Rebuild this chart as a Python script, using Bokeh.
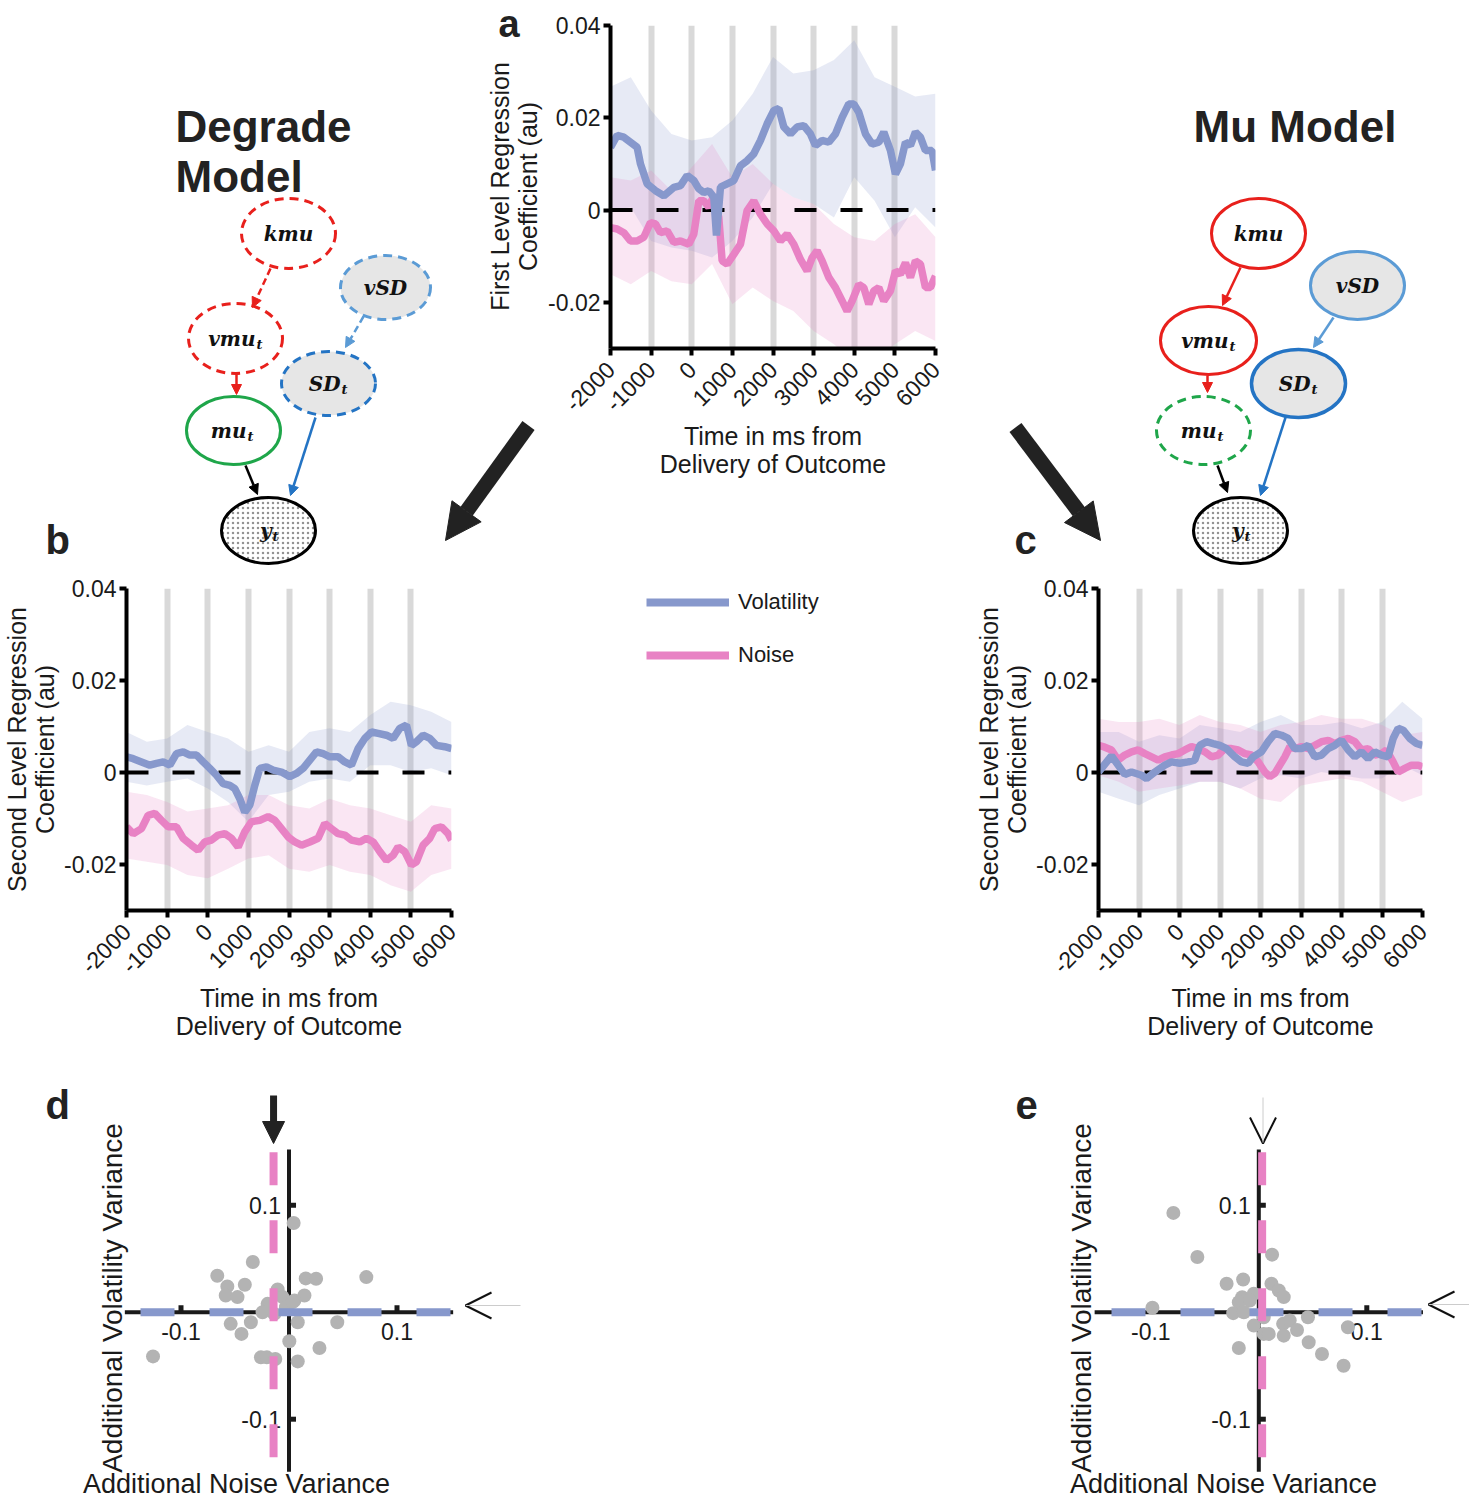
import math
from bokeh.plotting import figure
from bokeh.models import Range1d, FixedTicker, Arrow, NormalHead, OpenHead, Legend, LegendItem
from bokeh.layouts import row, column
from bokeh.embed import file_html
from bokeh.resources import INLINE
from bokeh.core.properties import value

# ---------------- data ----------------
time_ticks = [-2000, -1000, 0, 1000, 2000, 3000, 4000, 5000, 6000]
time_tick_labels = ["-2000", "-1000", "0", "1000", "2000", "3000", "4000", "5000", "6000"]
coef_ticks = [-0.02, 0.0, 0.02, 0.04]
coef_tick_labels = ["-0.02", "0", "0.02", "0.04"]
band_t = [-2000, -1500, -1000, -500, 0, 500, 1000, 1500, 2000, 2500, 3000, 3500, 4000, 4500, 5000, 5500, 6000]

# panel a (first level)
a_vol_t = [-2000,-1836,-1672,-1508,-1344,-1262,-1098,-893,-687,-441,-277,-113,51,174,297,420,543,609,707,871,1035,1199,1363,1527,1692,1856,2020,2143,2266,2430,2594,2758,2922,3045,3209,3373,3538,3702,3865,3988,4112,4276,4440,4604,4727,4891,5014,5137,5260,5383,5506,5629,5752,5916,6000]
a_vol = [0.0136,0.0162,0.0158,0.0147,0.0136,0.0100,0.0057,0.0042,0.0031,0.0049,0.0053,0.0075,0.0064,0.0046,0.0038,0.0042,0.0028,-0.0055,0.0050,0.0057,0.0064,0.0096,0.0107,0.0122,0.0151,0.0187,0.0216,0.0220,0.0180,0.0165,0.0180,0.0183,0.0165,0.0140,0.0151,0.0147,0.0165,0.0201,0.0230,0.0230,0.0212,0.0165,0.0143,0.0147,0.0169,0.0129,0.0078,0.0100,0.0147,0.0140,0.0169,0.0158,0.0129,0.0129,0.0086]
a_noise_t = [-2000,-1836,-1672,-1508,-1344,-1180,-1016,-893,-770,-605,-441,-277,-72,51,174,297,420,543,666,748,871,1035,1199,1363,1527,1692,1856,2020,2184,2348,2512,2676,2840,2963,3086,3209,3373,3538,3702,3824,3947,4112,4235,4358,4481,4604,4727,4891,5014,5137,5260,5383,5506,5629,5752,5875,6000]
a_noise = [-0.0038,-0.0041,-0.0049,-0.0067,-0.0067,-0.0059,-0.0027,-0.0030,-0.0049,-0.0045,-0.0070,-0.0067,-0.0074,-0.0052,0.0020,0.0020,0.0006,0.0031,-0.0016,-0.0110,-0.0117,-0.0096,-0.0074,-0.0001,0.0020,-0.0009,-0.0030,-0.0045,-0.0067,-0.0052,-0.0074,-0.0107,-0.0132,-0.0103,-0.0088,-0.0110,-0.0146,-0.0168,-0.0197,-0.0219,-0.0197,-0.0161,-0.0168,-0.0204,-0.0175,-0.0168,-0.0197,-0.0175,-0.0132,-0.0139,-0.0114,-0.0146,-0.0110,-0.0117,-0.0168,-0.0168,-0.0143]
a_vol_lo = [-0.0001,0.0006,-0.0067,-0.0081,-0.0088,-0.0103,-0.0067,-0.0016,0.0057,0.0028,0.0013,-0.0016,0.0071,0.0020,-0.0059,0.0006,-0.0038]
a_vol_hi = [0.0267,0.0288,0.0216,0.0165,0.0151,0.0158,0.0194,0.0252,0.0332,0.0296,0.0303,0.0325,0.0368,0.0288,0.0267,0.0246,0.0252]
a_noise_lo = [-0.0139,-0.0161,-0.0132,-0.0154,-0.0161,-0.0117,-0.0204,-0.0168,-0.0197,-0.0219,-0.0262,-0.0291,-0.0328,-0.0328,-0.0291,-0.0262,-0.0284]
a_noise_hi = [0.0071,0.0064,0.0086,0.0042,0.0093,0.0143,0.0071,0.0100,0.0057,0.0028,0.0013,-0.0030,-0.0059,-0.0067,-0.0030,-0.0009,-0.0059]

# panel b (degrade model, second level)
b_vol_t = [-2000,-1836,-1631,-1426,-1262,-1098,-934,-770,-605,-441,-277,-113,51,215,379,543,666,789,912,1035,1158,1281,1445,1609,1815,2020,2184,2348,2512,2676,2840,3004,3209,3373,3537,3701,3865,4030,4194,4399,4563,4727,4891,5014,5137,5301,5465,5629,5834,6000]
b_vol = [0.0034,0.0030,0.0023,0.0016,0.0020,0.0023,0.0016,0.0041,0.0045,0.0038,0.0038,0.0023,0.0009,-0.0006,-0.0024,-0.0028,-0.0035,-0.0057,-0.0086,-0.0071,-0.0028,0.0009,0.0012,0.0005,0.0001,-0.0009,-0.0002,0.0009,0.0027,0.0045,0.0041,0.0034,0.0034,0.0023,0.0016,0.0052,0.0074,0.0088,0.0085,0.0081,0.0074,0.0096,0.0103,0.0059,0.0067,0.0081,0.0074,0.0059,0.0056,0.0052]
b_noise_t = [-2000,-1836,-1631,-1467,-1303,-1139,-975,-770,-605,-400,-236,-72,92,256,420,584,748,912,1076,1281,1486,1651,1815,1979,2143,2307,2512,2717,2881,3045,3209,3373,3537,3742,3906,4071,4235,4399,4563,4686,4850,5014,5137,5301,5465,5588,5752,5916,6000]
b_noise = [-0.0118,-0.0133,-0.0122,-0.0093,-0.0089,-0.0104,-0.0118,-0.0118,-0.0143,-0.0158,-0.0169,-0.0151,-0.0147,-0.0136,-0.0133,-0.0143,-0.0162,-0.0129,-0.0107,-0.0104,-0.0096,-0.0104,-0.0122,-0.0140,-0.0151,-0.0158,-0.0151,-0.0143,-0.0111,-0.0122,-0.0133,-0.0136,-0.0147,-0.0151,-0.0143,-0.0151,-0.0172,-0.0191,-0.0180,-0.0162,-0.0172,-0.0201,-0.0194,-0.0158,-0.0143,-0.0122,-0.0118,-0.0133,-0.0147]
b_vol_lo = [-0.0020,-0.0028,-0.0020,-0.0013,-0.0035,-0.0064,-0.0107,-0.0049,-0.0042,-0.0020,-0.0013,-0.0020,0.0016,0.0016,0.0001,0.0009,-0.0006]
b_vol_hi = [0.0088,0.0067,0.0074,0.0103,0.0088,0.0074,0.0045,0.0059,0.0045,0.0088,0.0096,0.0088,0.0125,0.0154,0.0146,0.0132,0.0110]
b_noise_lo = [-0.0187,-0.0194,-0.0201,-0.0223,-0.0230,-0.0209,-0.0187,-0.0180,-0.0209,-0.0216,-0.0201,-0.0216,-0.0223,-0.0245,-0.0259,-0.0223,-0.0209]
b_noise_hi = [-0.0042,-0.0049,-0.0064,-0.0085,-0.0078,-0.0071,-0.0049,-0.0049,-0.0071,-0.0078,-0.0057,-0.0071,-0.0078,-0.0093,-0.0107,-0.0071,-0.0078]

# panel c (mu model, second level)
c_vol_t = [-2000,-1679,-1350,-1185,-938,-815,-609,-362,-198,8,214,378,502,667,831,996,1160,1366,1531,1695,1819,2024,2189,2354,2518,2683,2847,3012,3177,3341,3506,3671,3835,4000,4164,4329,4493,4658,4823,4987,5152,5275,5399,5522,5687,5851,6000]
c_vol = [0.0001,0.0036,-0.0004,0.0001,-0.0006,-0.0013,0.0001,0.0016,0.0023,0.0020,0.0023,0.0027,0.0059,0.0067,0.0063,0.0059,0.0052,0.0034,0.0023,0.0020,0.0034,0.0045,0.0067,0.0085,0.0081,0.0074,0.0052,0.0052,0.0059,0.0034,0.0038,0.0052,0.0059,0.0070,0.0049,0.0034,0.0045,0.0030,0.0045,0.0038,0.0034,0.0074,0.0096,0.0092,0.0074,0.0063,0.0059]
c_noise_t = [-2000,-1844,-1679,-1514,-1350,-1185,-1021,-856,-691,-527,-362,-198,-33,132,296,461,625,790,955,1119,1284,1448,1613,1778,1942,2107,2230,2354,2477,2601,2724,2847,3012,3177,3341,3506,3671,3835,4000,4164,4329,4493,4658,4823,4987,5111,5275,5399,5563,5728,5893,6000]
c_noise = [0.0059,0.0055,0.0049,0.0027,0.0038,0.0045,0.0049,0.0041,0.0034,0.0027,0.0034,0.0038,0.0041,0.0049,0.0056,0.0052,0.0045,0.0034,0.0038,0.0052,0.0052,0.0049,0.0041,0.0038,0.0023,0.0001,-0.0009,-0.0002,0.0016,0.0034,0.0056,0.0052,0.0056,0.0052,0.0059,0.0067,0.0070,0.0063,0.0070,0.0074,0.0067,0.0049,0.0052,0.0038,0.0041,0.0049,0.0023,0.0001,0.0009,0.0016,0.0016,0.0012]
c_vol_lo = [-0.0042,-0.0057,-0.0071,-0.0049,-0.0035,-0.0020,-0.0020,-0.0035,-0.0013,-0.0006,-0.0013,0.0001,-0.0006,-0.0013,-0.0013,0.0016,-0.0006]
c_vol_hi = [0.0088,0.0088,0.0067,0.0081,0.0074,0.0103,0.0096,0.0088,0.0110,0.0125,0.0103,0.0103,0.0110,0.0096,0.0110,0.0154,0.0117]
c_noise_lo = [-0.0006,-0.0020,-0.0042,-0.0035,-0.0028,-0.0020,-0.0020,-0.0035,-0.0057,-0.0064,-0.0028,-0.0020,-0.0013,-0.0020,-0.0042,-0.0064,-0.0049]
c_noise_hi = [0.0117,0.0110,0.0110,0.0117,0.0103,0.0125,0.0110,0.0103,0.0088,0.0103,0.0110,0.0125,0.0117,0.0117,0.0103,0.0081,0.0088]

# panels d / e (additional variance scatter)
scatter_ticks = [-0.1, 0.1]
scatter_tick_labels = ["-0.1", "0.1"]
d_noise_var = [0.0043,-0.0335,-0.0664,-0.0571,-0.0409,-0.0586,-0.0477,0.0155,0.0251,0.0716,0.0143,-0.0105,-0.0059,0.0050,-0.0198,-0.0245,-0.0136,-0.0028,-0.0540,-0.0353,-0.0440,0.0081,0.0447,0.0003,0.0282,-0.0260,-0.0205,-0.0127,0.0081,-0.1259,0.0034]
d_vol_var = [0.0834,0.0469,0.0341,0.0241,0.0256,0.0156,0.0141,0.0316,0.0313,0.0328,0.0156,0.0213,0.0141,0.0109,0.0078,0.0000,-0.0016,0.0047,-0.0109,-0.0094,-0.0203,-0.0094,-0.0094,-0.0272,-0.0334,-0.0422,-0.0422,-0.0438,-0.0460,-0.0413,0.0094]
d_noise_mean = -0.0143
d_vol_mean = 0.0
e_noise_var = [-0.0791,-0.0569,0.0123,-0.0298,-0.0145,0.0117,0.0185,0.0231,-0.0154,-0.0046,-0.0185,-0.0083,-0.0985,-0.0237,-0.0138,-0.0046,0.0046,0.0092,0.0225,0.0286,0.0354,0.0231,0.0455,0.0462,0.0825,0.0585,0.0785,-0.0185,0.0046]
e_vol_var = [0.0928,0.0516,0.0538,0.0266,0.0306,0.0266,0.0203,0.0141,0.0141,0.0172,0.0094,0.0109,0.0041,-0.0009,0.0000,-0.0125,-0.0203,-0.0203,-0.0109,-0.0078,-0.0166,-0.0219,-0.0047,-0.0281,-0.0141,-0.0391,-0.0500,-0.0334,-0.0047]
e_noise_mean = 0.0031
e_vol_mean = 0.0

# ---------------- style ----------------
FONT = "Liberation Sans"
SERIF = "DejaVu Serif"
BLUE = "#8798cc"
PINK = "#e882c4"
GRID = "#d9d9d9"
INK = "#1a1a1a"
RED = "#e8201c"
GREEN = "#1fa64a"
LBLUE = "#5b9bd5"
DBLUE = "#2474c4"
GRAYFILL = "#e6e6e6"


def canvas(x0, x1, y0, y1, width, height):
    p = figure(width=width, height=height, x_range=Range1d(x0, x1), y_range=Range1d(y0, y1),
               x_axis_type=None, y_axis_type=None, min_border=0, frame_align=False,
               output_backend="svg", toolbar_location=None)
    p.outline_line_color = None
    return p


def txt(p, x, y, s, size, align="left", style="normal", font=FONT,
        angle=0.0, color=INK, line_height=1.2):
    p.text(x=[x], y=[y], text=[s], text_font=value(font), text_font_size=size,
           text_font_style=style, text_align=align, text_baseline="middle",
           angle=angle, text_color=color, text_line_height=line_height)


SUB_OFF = {"vmu": 20, "SD": 12, "mu": 13, "y": 3}


def draw_graph(p, nodes, edges):
    for (x0, y0, x1, y1, col, dash) in edges:
        p.add_layout(Arrow(x_start=x0, y_start=y0, x_end=x1, y_end=y1, line_color=col,
                           line_width=2.5, line_dash=dash,
                           end=NormalHead(size=10, fill_color=col, line_color=col, line_width=1)))
    for (cx, cy, w, h, col, dash, fill, lw, main, sub) in nodes:
        kw = {}
        if main == "y":
            kw = dict(hatch_pattern=".", hatch_color="#777777", hatch_scale=5, hatch_weight=1,
                      hatch_alpha=0.8)
        p.ellipse(x=cx, y=cy, width=w, height=h, line_color=col, line_dash=dash, line_width=lw,
                  fill_color=fill, **kw)
        if sub:
            off = SUB_OFF[main]
            txt(p, cx + off, cy, main, "20px", align="right", style="bold italic", font=SERIF,
                color="#111")
            txt(p, cx + off + 1, cy + 6, sub, "13px", align="left", style="bold italic",
                font=SERIF, color="#111")
        else:
            txt(p, cx, cy, main, "20px", align="center", style="bold italic", font=SERIF,
                color="#111")


def big_arrow(p, x0, y0, x1, y1):
    p.add_layout(Arrow(x_start=x0, y_start=y0, x_end=x1, y_end=y1, line_color="#222222",
                       line_width=15,
                       end=NormalHead(size=36, fill_color="#222222", line_color="#222222")))


# ---------------- row 1: degrade model diagram ----------------
L1 = canvas(0, 545, 570, 0, 545, 570)
txt(L1, 175, 126, "Degrade", "44px", style="bold", color="#222")
txt(L1, 175, 176, "Model", "44px", style="bold", color="#222")
txt(L1, 498, 23, "a", "38px", style="bold", color="#222")
txt(L1, 45, 539, "b", "40px", style="bold", color="#222")
txt(L1, 513, 186, "First Level Regression\nCoefficient (au)", "25px", align="center",
    angle=math.pi / 2, line_height=1.0)
draw_graph(L1,
           nodes=[(288, 233, 94, 70, RED, "9 6", "white", 3, "kmu", None),
                  (385, 287, 90, 64, LBLUE, "9 6", GRAYFILL, 3, "vSD", None),
                  (235, 338, 94, 70, RED, "9 6", "white", 3, "vmu", "t"),
                  (328, 383, 94, 64, DBLUE, "9 6", GRAYFILL, 3, "SD", "t"),
                  (233, 430, 94, 68, GREEN, "solid", "white", 3, "mu", "t"),
                  (268, 530, 94, 66, "black", "solid", "white", 3, "y", "t")],
           edges=[(270, 268, 252, 307, RED, "7 4"),
                  (363, 316, 345, 347, LBLUE, "7 4"),
                  (236, 373, 236, 394, RED, "solid"),
                  (315, 417, 290, 495, DBLUE, "solid"),
                  (245, 465, 257, 494, "black", "solid")])
big_arrow(L1, 528, 425, 445, 540)

# ---------------- row 1: mu model diagram ----------------
R1 = canvas(960, 1469, 570, 0, 509, 570)
txt(R1, 1193, 126, "Mu Model", "44px", style="bold", color="#222")
txt(R1, 1014, 539, "c", "40px", style="bold", color="#222")
draw_graph(R1,
           nodes=[(1258, 233, 94, 70, RED, "solid", "white", 3, "kmu", None),
                  (1357, 285, 94, 68, LBLUE, "solid", GRAYFILL, 3, "vSD", None),
                  (1208, 340, 96, 68, RED, "solid", "white", 3, "vmu", "t"),
                  (1298, 383, 94, 68, DBLUE, "solid", GRAYFILL, 3.5, "SD", "t"),
                  (1203, 430, 94, 68, GREEN, "9 6", "white", 3, "mu", "t"),
                  (1240, 530, 94, 66, "black", "solid", "white", 3, "y", "t")],
           edges=[(1240, 267, 1222, 305, RED, "solid"),
                  (1333, 317, 1313, 347, LBLUE, "solid"),
                  (1207, 375, 1207, 392, RED, "solid"),
                  (1285, 417, 1260, 495, DBLUE, "solid"),
                  (1217, 465, 1227, 492, "black", "solid")])
big_arrow(R1, 1015, 427, 1100, 540)


# ---------------- time-series panels ----------------
def ts_panel(fl, fr, ft, fb, fw, fh, ylabel, vol_t, vol, noise_t, noise, vlo, vhi, nlo, nhi):
    p = figure(frame_width=fw, frame_height=fh, min_border_left=fl, min_border_right=fr,
               min_border_top=ft, min_border_bottom=fb, frame_align=False,
               x_range=Range1d(time_ticks[0], time_ticks[-1]), y_range=Range1d(-0.03, 0.04),
               output_backend="svg", toolbar_location=None)
    p.outline_line_color = None
    p.xgrid.ticker = FixedTicker(ticks=time_ticks[1:])
    p.xgrid.grid_line_color = GRID
    p.xgrid.grid_line_width = 6
    p.ygrid.grid_line_color = None
    p.varea(x=band_t, y1=vlo, y2=vhi, fill_color=BLUE, fill_alpha=0.2)
    p.varea(x=band_t, y1=nlo, y2=nhi, fill_color=PINK, fill_alpha=0.2)
    p.line(x=[time_ticks[0], time_ticks[-1]], y=[0, 0], line_color="black", line_width=4,
           line_dash="22 24")
    p.line(noise_t, noise, line_color=PINK, line_width=7.5)
    p.line(vol_t, vol, line_color=BLUE, line_width=7.5)
    p.xaxis.ticker = FixedTicker(ticks=time_ticks)
    p.xaxis.major_label_overrides = dict(zip(time_ticks, time_tick_labels))
    p.yaxis.ticker = FixedTicker(ticks=coef_ticks)
    p.yaxis.major_label_overrides = dict(zip(coef_ticks, coef_tick_labels))
    p.xaxis.major_label_orientation = math.pi / 4
    p.xaxis.axis_label = "Time in ms from\nDelivery of Outcome"
    if ylabel:
        p.yaxis.axis_label = ylabel
    for ax in (p.xaxis[0], p.yaxis[0]):
        ax.axis_line_width = 4
        ax.axis_line_color = "black"
        ax.major_tick_line_width = 4
        ax.major_tick_line_color = "black"
        ax.major_tick_out = 7
        ax.major_tick_in = 0
        ax.minor_tick_line_color = None
        ax.major_label_text_font = FONT
        ax.major_label_text_font_size = "23px"
        ax.major_label_text_color = INK
        ax.major_label_standoff = 3
        ax.axis_label_text_font = FONT
        ax.axis_label_text_font_size = "25px"
        ax.axis_label_text_font_style = "normal"
        ax.axis_label_text_color = INK
        ax.axis_label_text_line_height = 1.0
        ax.axis_label_standoff = 2
    p.xaxis.major_label_standoff = 10
    p.xaxis.axis_label_standoff = 0
    return p


A = ts_panel(65, 25, 25, 222, 325, 323, None, a_vol_t, a_vol, a_noise_t, a_noise,
             a_vol_lo, a_vol_hi, a_noise_lo, a_noise_hi)
B = ts_panel(125, 20, 18, 150, 325, 322, "Second Level Regression\nCoefficient (au)",
             b_vol_t, b_vol, b_noise_t, b_noise, b_vol_lo, b_vol_hi, b_noise_lo, b_noise_hi)
C = ts_panel(137, 48, 18, 150, 324, 322, "Second Level Regression\nCoefficient (au)",
             c_vol_t, c_vol, c_noise_t, c_noise, c_vol_lo, c_vol_hi, c_noise_lo, c_noise_hi)

# ---------------- legend ----------------
LG = canvas(0, 1, 0, 1, 490, 490)
r_vol = LG.line(x=[-1, -1], y=[-1, -1], line_color=BLUE, line_width=8)
r_noise = LG.line(x=[-1, -1], y=[-1, -1], line_color=PINK, line_width=8)
LG.add_layout(Legend(items=[LegendItem(label="Volatility", renderers=[r_vol]),
                            LegendItem(label="Noise", renderers=[r_noise])],
                     location=(175, 385), glyph_width=83, glyph_height=40, label_height=40,
                     spacing=13, padding=0, margin=0, border_line_color=None,
                     background_fill_alpha=0, label_text_font=FONT,
                     label_text_font_size="22px", label_text_color=INK, label_standoff=9))

# ---------------- scatter panels ----------------
SX, SY, Y0 = 1080.0, 1070.0, 1311.7
AX_LIM = 0.152
AX_LOW = -0.149


def scatter_panel(X0, left_px, right_px, xs, ys, noise_mean, vol_mean, letter, letter_px,
                  xlabel_px, vol_start_px, top_filled):
    fx = lambda px: (px - X0) / SX
    fy = lambda py: (Y0 - py) / SY
    p = canvas(fx(left_px), fx(right_px), fy(1500), fy(1060), right_px - left_px, 440)
    p.segment(x0=[-AX_LIM, 0], y0=[0, AX_LOW], x1=[AX_LIM, 0], y1=[0, AX_LIM],
              line_color=INK, line_width=4)
    p.segment(x0=scatter_ticks, y0=[0, 0], x1=scatter_ticks, y1=[0.0065, 0.0065],
              line_color=INK, line_width=5)
    p.segment(x0=[0, 0], y0=scatter_ticks, x1=[0.0065, 0.0065], y1=scatter_ticks,
              line_color=INK, line_width=5)
    p.text(x=scatter_ticks, y=[0, 0], text=scatter_tick_labels, text_font=value(FONT),
           text_font_size="23px", text_align="center", text_baseline="top", y_offset=11,
           text_color=INK)
    p.text(x=[0, 0], y=scatter_ticks, text=scatter_tick_labels, text_font=value(FONT),
           text_font_size="23px", text_align="right", text_baseline="middle", x_offset=-8,
           text_color=INK)
    p.scatter(x=xs, y=ys, size=14, fill_color="#b3b3b3", line_color=None)
    p.line(x=[fx(vol_start_px), AX_LIM], y=[vol_mean, vol_mean], line_color=BLUE,
           line_width=8, line_dash="34 35")
    p.line(x=[noise_mean, noise_mean], y=[0.1495, -AX_LIM], line_color=PINK, line_width=8,
           line_dash="33 35")
    txt(p, fx(xlabel_px), fy(1483), "Additional Noise Variance", "27px", align="center")
    txt(p, fx(X0 - 177), fy(1297.5), "Additional Volatility Variance", "28px",
        align="center", angle=math.pi / 2)
    txt(p, fx(letter_px[0]), fy(letter_px[1]), letter, "40px", style="bold", color="#222")
    if top_filled:
        p.add_layout(Arrow(x_start=noise_mean, y_start=fy(1095), x_end=noise_mean,
                           y_end=fy(1143), line_color="#222222", line_width=7,
                           end=NormalHead(size=22, fill_color="#222222", line_color="#222222")))
    else:
        p.add_layout(Arrow(x_start=fx(1262.5), y_start=fy(1097), x_end=fx(1262.5),
                           y_end=fy(1143), line_color="#cccccc", line_width=1,
                           end=OpenHead(size=26, line_color="#111111", line_width=2)))
    return p, fx, fy


D, dfx, dfy = scatter_panel(288.5, 0, 735, d_noise_var, d_vol_var, d_noise_mean, d_vol_mean,
                            "d", (45, 1104), 236, 140, True)
D.add_layout(Arrow(x_start=dfx(520), y_start=dfy(1305), x_end=dfx(465), y_end=dfy(1305),
                   line_color="#cccccc", line_width=1,
                   end=OpenHead(size=26, line_color="#111111", line_width=2)))
E, efx, efy = scatter_panel(1258.3, 735, 1469, e_noise_var, e_vol_var, e_noise_mean, e_vol_mean,
                            "e", (1015, 1104), 1223, 1111, False)
E.add_layout(Arrow(x_start=efx(1469), y_start=efy(1304), x_end=efx(1428), y_end=efy(1304),
                   line_color="#cccccc", line_width=1,
                   end=OpenHead(size=26, line_color="#111111", line_width=2)))

layout = column(row(L1, A, R1), row(B, LG, C), row(D, E))
open("out.html", "w").write(file_html(layout, INLINE))
